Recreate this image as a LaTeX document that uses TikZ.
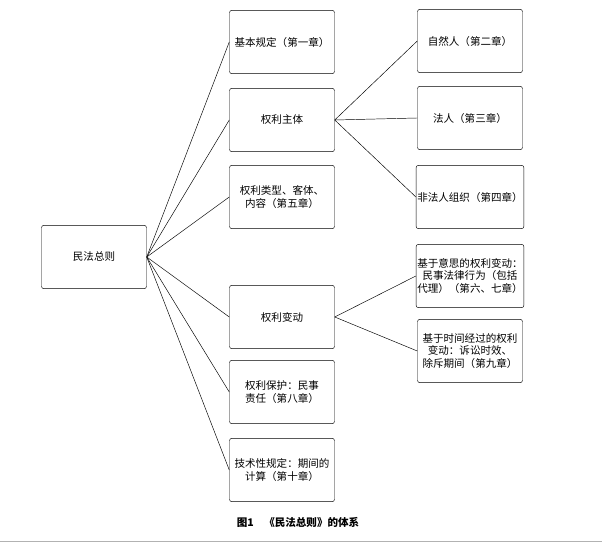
\documentclass[tikz,border=0pt]{standalone}
\usepackage{fontspec}
\setmainfont{Noto Sans CJK SC}
\begin{document}
\begin{tikzpicture}[
            x=0.03cm, y=-0.03cm,
            box/.style={draw, rounded corners=2pt, align=center, font=\small,
                minimum width=3.15cm, minimum height=1.9cm, inner sep=1pt},
            link/.style={draw, thin}
        ]
            \useasboundingbox (0, 0) rectangle (602, 544);
            \draw[gray!60] (0, 541) -- (602, 541);

            % root
            \node[box] (root) at (94, 257) {民法总则};

            % middle column
            \node[box] (basic) at (282, 42) {基本规定（第一章）};
            \node[box] (subject) at (282, 120) {权利主体};
            \node[box] (type) at (282, 197) {权利类型、客体、\\内容（第五章）};
            \node[box] (change) at (282, 317) {权利变动};
            \node[box] (protect) at (282, 392) {权利保护：民事\\责任（第八章）};
            \node[box] (tech) at (282, 470) {技术性规定：期间的\\计算（第十章）};

            % right column
            \node[box] (natural) at (470, 41) {自然人（第二章）};
            \node[box] (legal) at (470, 118) {法人（第三章）};
            \node[box] (unincorp) at (470, 197) {非法人组织（第四章）};
            \node[box] (will) at (470, 276) {基于意思的权利变动：\\民事法律行为（包括\\代理）（第六、七章）};
            \node[box] (time) at (470, 351) {基于时间经过的权利\\变动：诉讼时效、\\除斥期间（第九章）};

            \foreach \n in {basic, subject, type, change, protect, tech}
                \draw[link] (root.east) -- (\n.west);
            \foreach \n in {natural, legal, unincorp}
                \draw[link] (subject.east) -- (\n.west);
            \foreach \n in {will, time}
                \draw[link] (change.east) -- (\n.west);

            \node[font=\small\bfseries] (caption) at (298, 522) {图1\quad 《民法总则》的体系};
        \end{tikzpicture}
\end{document}
